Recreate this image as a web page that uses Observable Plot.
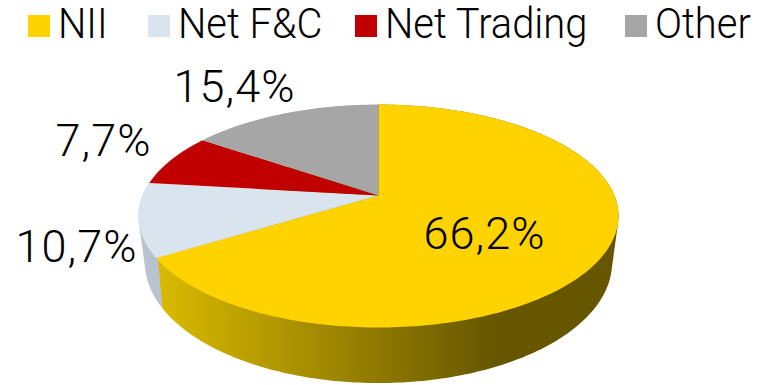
<!DOCTYPE html>
<html><head><meta charset="utf-8">
<script src="https://cdn.jsdelivr.net/npm/d3@7"></script>
<script src="https://cdn.jsdelivr.net/npm/@observablehq/plot@0.6"></script>
<style>
html,body{margin:0;padding:0;background:#fff}
body{width:775px;height:385px;overflow:hidden;font-family:"Roboto",sans-serif;font-weight:300;color:#000}
#legend{position:relative;height:52px;width:775px}
#legend .sw{position:absolute;top:15px;width:22px;height:22px}
#legend .lb{position:absolute;top:0px;font-size:42px;line-height:48px;white-space:nowrap;transform:scaleX(.95);transform-origin:0 0}
svg{display:block}
svg text{letter-spacing:1px}
</style></head><body>
<div id="legend"></div>
<div id="chart"></div>
<script>
const categories = ["NII", "Net F&C", "Net Trading", "Other"];
const shares = [66.2, 10.7, 7.7, 15.4];
const labels = ["66,2%", "10,7%", "7,7%", "15,4%"];
const topColors = ["#FFD300", "#DAE4EF", "#C00000", "#A6A6A6"];
const wallColors = ["url(#wallGold)", "#B8C2D0", "#7a0000", "#6a6a6a"];

// layout
const swatchX = [28, 148, 355, 625];
const textX = [58, 178, 385, 655];
const labelAt = [[484, 234], [76, 247], [103, 141], [234, 87]];
const legendH = 52;

const top_ = {cx: 378, cy: 195, rx: 235.9, ry: 107.7, k: 0.184, sx: 1, sy: 1};
const base = {cx: 378, cy: 240, rx: 235.9, ry: 107.7, k: 0.184, sx: 0.973, sy: 1.08};
function pt(p, deg) {
  const a = deg * Math.PI / 180, u = Math.sin(a), v = -Math.cos(a), d = 1 - p.k * v;
  return [p.cx + p.sx * p.rx * u / d, p.cy + p.sy * p.ry * v / d];
}
let acc = 0;
const slices = categories.map((name, i) => {
  const a0 = acc * 3.6; acc += shares[i];
  return {name, i, a0, a1: acc * 3.6};
});
const arc = (p, s) => d3.range(s.a0, s.a1, 1).concat(s.a1).map(a => pt(p, a));

const topRows = slices.flatMap(s =>
  [[top_.cx, top_.cy], ...arc(top_, s)].map(([x, y]) => ({x, y, name: s.name, fill: topColors[s.i]})));
const wallRows = slices.slice(0, 2).flatMap(s =>
  d3.polygonHull([...arc(top_, s), ...arc(base, s)]).map(([x, y]) => ({x, y, name: s.name, fill: wallColors[s.i]})));
const labelRows = slices.map(s => ({x: labelAt[s.i][0], y: labelAt[s.i][1], text: labels[s.i]}));

const legend = document.getElementById("legend");
categories.forEach((c, i) => {
  legend.insertAdjacentHTML("beforeend",
    `<div class="sw" style="left:${swatchX[i]}px;background:${topColors[i]}"></div><div class="lb" style="left:${textX[i]}px">${c.replace("&","&amp;")}</div>`);
});

const defs = () => {
  const ns = "http://www.w3.org/2000/svg";
  const d = document.createElementNS(ns, "defs");
  d.innerHTML = `<linearGradient id="wallGold" gradientUnits="userSpaceOnUse" x1="157" y1="0" x2="495" y2="0">
    <stop offset="0" stop-color="#DABA00"/><stop offset="1" stop-color="#665600"/></linearGradient>`;
  return d;
};

const plot = Plot.plot({
  width: 775, height: 385 - legendH,
  margin: 0,
  x: {domain: [0, 775], range: [0, 775], axis: null},
  y: {domain: [legendH, 385], range: [0, 385 - legendH], axis: null},
  marks: [
    defs,
    Plot.line(wallRows, {x: "x", y: "y", z: "name", fill: "fill", stroke: null}),
    Plot.line(topRows, {x: "x", y: "y", z: "name", fill: "fill", stroke: null}),
    Plot.text(labelRows, {x: "x", y: "y", text: "text", fontSize: 45, fontWeight: 300, fill: "#000", fontFamily: '"Roboto",sans-serif'})
  ]
});
document.getElementById("chart").append(plot);
</script>
</body></html>
